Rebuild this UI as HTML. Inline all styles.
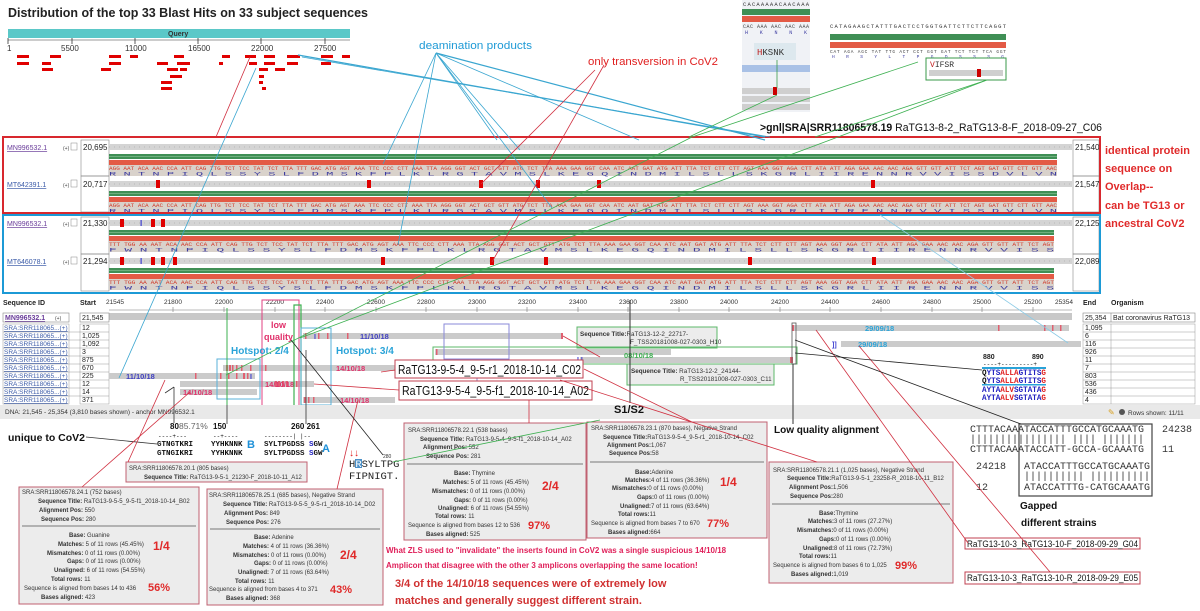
<!DOCTYPE html>
<html><head><meta charset="utf-8"><style>
html,body{margin:0;padding:0;background:#fff;}
svg{display:block;font-family:"Liberation Sans",sans-serif;}
.m{font-family:"Liberation Mono",monospace;}
.b{font-weight:bold;}
</style></head><body>
<svg width="1200" height="611" viewBox="0 0 1200 611" xmlns="http://www.w3.org/2000/svg">
<text x="8" y="17" font-size="13" class="b" textLength="360" lengthAdjust="spacingAndGlyphs" fill="#222">Distribution of the top 33 Blast Hits on 33 subject sequences</text>
<rect x="8" y="29" width="342" height="9" fill="#5bc8c8"/>
<text x="168" y="36" font-size="7" class="b" fill="#333">Query</text>
<line x1="8" y1="40" x2="350" y2="40" stroke="#333" stroke-width="0.6"/>
<g stroke="#333" stroke-width="0.8"><line x1="8" y1="38" x2="8" y2="44"/><line x1="72" y1="38" x2="72" y2="44"/><line x1="135" y1="38" x2="135" y2="44"/><line x1="198" y1="38" x2="198" y2="44"/><line x1="261" y1="38" x2="261" y2="44"/><line x1="325" y1="38" x2="325" y2="44"/></g>
<g font-size="8" fill="#333"><text x="7" y="51">1</text><text x="61" y="51">5500</text><text x="125" y="51">11000</text><text x="188" y="51">16500</text><text x="251" y="51">22000</text><text x="314" y="51">27500</text></g>
<g fill="#e00000">
<rect x="17" y="55" width="12" height="3"/><rect x="50" y="55" width="11" height="3"/><rect x="109" y="55" width="12" height="3"/><rect x="130" y="55" width="8" height="3"/><rect x="174" y="55" width="10" height="3"/><rect x="222" y="55" width="8" height="3"/><rect x="245" y="55" width="11" height="3"/><rect x="264" y="55" width="11" height="3"/><rect x="287" y="55" width="13" height="3"/><rect x="321" y="55" width="12" height="3"/><rect x="342" y="55" width="8" height="3"/>
<rect x="17" y="62" width="12" height="3"/><rect x="42" y="62" width="9" height="3"/><rect x="109" y="62" width="12" height="3"/><rect x="157" y="62" width="11" height="3"/><rect x="177" y="62" width="13" height="3"/><rect x="219" y="62" width="4" height="3"/><rect x="249" y="62" width="8" height="3"/><rect x="264" y="62" width="11" height="3"/><rect x="287" y="62" width="11" height="3"/><rect x="321" y="62" width="10" height="3"/>
<rect x="42" y="68" width="11" height="3"/><rect x="101" y="68" width="10" height="3"/><rect x="167" y="68" width="11" height="3"/><rect x="180" y="68" width="7" height="3"/><rect x="259" y="68" width="9" height="3"/><rect x="275" y="68" width="10" height="3"/>
<rect x="170" y="75" width="12" height="3"/><rect x="259" y="75" width="5" height="3"/>
<rect x="161" y="81" width="11" height="3"/><rect x="259" y="81" width="4" height="3"/>
<rect x="161" y="87" width="11" height="3"/><rect x="262" y="87" width="4" height="3"/>
</g>
<text x="419" y="49" font-size="11" fill="#1e9ad6" textLength="113" lengthAdjust="spacingAndGlyphs">deamination products</text>
<text x="588" y="65" font-size="11" fill="#e02020" textLength="130" lengthAdjust="spacingAndGlyphs">only transversion in CoV2</text>

<rect x="742" y="0" width="68" height="112" fill="#f0f2f6"/>
<text x="743" y="6" font-size="5.5" class="m" fill="#333" textLength="66">CACAAAAACAACAAA</text>
<rect x="742" y="9" width="68" height="6" fill="#3f8f55"/><rect x="742" y="16" width="68" height="6" fill="#e35a45"/>
<text x="743" y="28" font-size="5" class="m" fill="#444" textLength="66">CAC AAA AAC AAC AAA</text>
<text x="745" y="34" font-size="5" class="m" fill="#3b3ba0" textLength="62">H  K  N  N  K</text>
<rect x="754" y="43" width="42" height="17" fill="#dde8ee"/>
<text x="757" y="55" font-size="9" class="m" fill="#333"><tspan fill="#c02020">H</tspan>KSNK</text>
<rect x="742" y="65" width="68" height="7" fill="#a9c1e6"/>
<rect x="742" y="88" width="68" height="6" fill="#cfcfcf"/><rect x="742" y="96" width="68" height="6" fill="#cfcfcf"/><rect x="742" y="104" width="68" height="6" fill="#cfcfcf"/>
<rect x="773" y="87" width="4" height="8" fill="#c00"/>
<line x1="777" y1="60" x2="777" y2="88" stroke="#3a9a4a" stroke-width="0.8"/>
<text x="830" y="28" font-size="5.5" class="m" fill="#333" textLength="176">CATAGAAGCTATTTGACTCCTGGTGATTCTTCTTCAGGT</text>
<rect x="830" y="34" width="176" height="6" fill="#3f8f55"/><rect x="830" y="42" width="176" height="6" fill="#e35a45"/>
<text x="830" y="53" font-size="4.5" class="m" fill="#444" textLength="176">CAT AGA AGC TAT TTG ACT CCT GGT GAT TCT TCT TCA GGT</text>
<text x="832" y="58" font-size="4.5" class="m" fill="#3b3ba0" textLength="172">H   R   S   Y   L   T   P   G   D   S   S   S   G</text>
<rect x="926" y="58" width="80" height="22" fill="#fff" stroke="#3a9a4a" stroke-width="1"/>
<text x="930" y="67" font-size="8" class="m" fill="#333"><tspan fill="#c02020">V</tspan>IFSR</text>
<rect x="929" y="70" width="74" height="6" fill="#cfcfcf"/><rect x="977" y="69" width="4" height="8" fill="#c00"/>
<text x="760" y="131" font-size="11" fill="#111" textLength="342" lengthAdjust="spacingAndGlyphs"><tspan class="b">&gt;gnl|SRA|SRR11806578.19</tspan> RaTG13-8-2_RaTG13-8-F_2018-09-27_C06</text>

<g id="panels">
<g font-size="7">
<text x="7" y="150" fill="#6a3d9a" text-decoration="underline">MN996532.1</text>
<text x="7" y="187" fill="#3b5ba8" text-decoration="underline">MT642391.1</text>
<text x="7" y="226" fill="#6a3d9a" text-decoration="underline">MN996532.1</text>
<text x="7" y="264" fill="#3b5ba8" text-decoration="underline">MT646078.1</text>
<g font-size="5" fill="#444"><text x="63" y="150">(+)</text><text x="63" y="187">(+)</text><text x="63" y="226">(+)</text><text x="63" y="264">(+)</text></g>
<g fill="#fff" stroke="#888" stroke-width="0.5"><rect x="71" y="143" width="6" height="7"/><rect x="71" y="180" width="6" height="7"/><rect x="71" y="219" width="6" height="7"/><rect x="71" y="257" width="6" height="7"/></g>
<g fill="none" stroke="#888" stroke-width="0.6"><rect x="81" y="140" width="28" height="36"/><rect x="81" y="176" width="28" height="36"/><rect x="81" y="217" width="28" height="37"/><rect x="81" y="254" width="28" height="37"/>
<rect x="1073" y="140" width="26" height="36"/><rect x="1073" y="176" width="26" height="36"/><rect x="1073" y="217" width="26" height="37"/><rect x="1073" y="254" width="26" height="37"/></g>
<g font-size="8" fill="#222"><text x="83" y="150">20,695</text><text x="83" y="187">20,717</text><text x="83" y="226">21,330</text><text x="83" y="264">21,294</text>
<text x="1075" y="150">21,540</text><text x="1075" y="187">21,547</text><text x="1075" y="226">22,125</text><text x="1075" y="264">22,089</text></g>
</g>
<g>
<rect x="109" y="144" width="963" height="6" fill="#d4d4d4"/><rect x="109" y="181" width="963" height="6" fill="#d4d4d4"/><rect x="109" y="220" width="963" height="6" fill="#d4d4d4"/><rect x="109" y="258" width="963" height="6" fill="#d4d4d4"/>
<g stroke="#999" stroke-width="0.6" stroke-dasharray="1 4"><line x1="109" y1="147" x2="1072" y2="147"/><line x1="109" y1="184" x2="1072" y2="184"/><line x1="109" y1="223" x2="1072" y2="223"/><line x1="109" y1="261" x2="1072" y2="261"/></g>
<g fill="#3f8f55"><rect x="109" y="154" width="948" height="5"/><rect x="109" y="191" width="948" height="5"/><rect x="109" y="230" width="945" height="5"/><rect x="109" y="268" width="945" height="5"/></g>
<g stroke="#9ed0a8" stroke-width="0.6"><line x1="109" y1="156.5" x2="1057" y2="156.5"/><line x1="109" y1="193.5" x2="1057" y2="193.5"/><line x1="109" y1="232.5" x2="1054" y2="232.5"/><line x1="109" y1="270.5" x2="1054" y2="270.5"/></g>
<g fill="#e35a45"><rect x="109" y="160" width="948" height="5"/><rect x="109" y="197" width="948" height="5"/><rect x="109" y="236" width="945" height="5"/><rect x="109" y="274" width="945" height="5"/></g>
<g fill="#d9d2cb"><rect x="109" y="165" width="948" height="11"/><rect x="109" y="202" width="948" height="11"/><rect x="109" y="241" width="945" height="11"/><rect x="109" y="279" width="945" height="11"/></g>
<g font-size="5" class="m" fill="#d03a2a">
<text x="109" y="170" textLength="948" lengthAdjust="spacingAndGlyphs">AGG AAT ACA AAC CCA ATT CAG TTG TCT TCC TAT TCT TTA TTT GAC ATG AGT AAA TTC CCC CTT AAA TTA AGG GGT ACT GCT GTT ATG TCT TTA AAA GAA GGT CAA ATC AAT GAT ATG ATT TTA TCT CTT CTT AGT AAA GGT AGA CTT ATA ATT AGA GAA AAC AAC AGA GTT GTT ATT TCT AGT GAT GTT CTT GTT AAC</text>
<text x="109" y="207" textLength="948" lengthAdjust="spacingAndGlyphs">AGG AAT ACA AAC CCA ATT CAG TTG TCT TCC TAT TCT TTA TTT GAC ATG AGT AAA TTC CCC CTT AAA TTA AGG GGT ACT GCT GTT ATG TCT TTA AAA GAA GGT CAA ATC AAT GAT ATG ATT TTA TCT CTT CTT AGT AAA GGT AGA CTT ATA ATT AGA GAA AAC AAC AGA GTT GTT ATT TCT AGT GAT GTT CTT GTT AAC</text>
<text x="109" y="246" textLength="945" lengthAdjust="spacingAndGlyphs">TTT TGG AA AAT ACA AAC CCA ATT CAG TTG TCT TCC TAT TCT TTA TTT GAC ATG AGT AAA TTC CCC CTT AAA TTA AGG GGT ACT GCT GTT ATG TCT TTA AAA GAA GGT CAA ATC AAT GAT ATG ATT TTA TCT CTT CTT AGT AAA GGT AGA CTT ATA ATT AGA GAA AAC AAC AGA GTT GTT ATT TCT AGT</text>
<text x="109" y="284" textLength="945" lengthAdjust="spacingAndGlyphs">TTT TGG AA AAT ACA AAC CCA ATT CAG TTG TCT TCC TAT TCT TTA TTT GAC ATG AGT AAA TTC CCC CTT AAA TTA AGG GGT ACT GCT GTT ATG TCT TTA AAA GAA GGT CAA ATC AAT GAT ATG ATT TTA TCT CTT CTT AGT AAA GGT AGA CTT ATA ATT AGA GAA AAC AAC AGA GTT GTT ATT TCT AGT</text>
</g>
<g font-size="5" class="m" fill="#3b3ba0">
<text x="109" y="175.5" textLength="948" lengthAdjust="spacingAndGlyphs"> R   N   T   N   P   I   Q   L   S   S   Y   S   L   F   D   M   S   K   F   P   L   K   L   R   G   T   A   V   M   S   L   K   E   G   Q   I   N   D   M   I   L   S   L   L   S   K   G   R   L   I   I   R   E   N   N   R   V   V   I   S   S   D   V   L   V   N </text>
<text x="109" y="212.5" textLength="948" lengthAdjust="spacingAndGlyphs"> R   N   T   N   P   I   Q   L   S   S   Y   S   L   F   D   M   S   K   F   P   L   K   L   R   G   T   A   V   M   S   L   K   E   G   Q   I   N   D   M   I   L   S   L   L   S   K   G   R   L   I   I   R   E   N   N   R   V   V   I   S   S   D   V   L   V   N </text>
<text x="109" y="251.5" textLength="945" lengthAdjust="spacingAndGlyphs"> F   W      N   T   N   P   I   Q   L   S   S   Y   S   L   F   D   M   S   K   F   P   L   K   L   R   G   T   A   V   M   S   L   K   E   G   Q   I   N   D   M   I   L   S   L   L   S   K   G   R   L   I   I   R   E   N   N   R   V   V   I   S   S </text>
<text x="109" y="289.5" textLength="945" lengthAdjust="spacingAndGlyphs"> F   W      N   T   N   P   I   Q   L   S   S   Y   S   L   F   D   M   S   K   F   P   L   K   L   R   G   T   A   V   M   S   L   K   E   G   Q   I   N   D   M   I   L   S   L   L   S   K   G   R   L   I   I   R   E   N   N   R   V   V   I   S   S </text>
</g>
<g fill="#e00000">
<rect x="156" y="180" width="4" height="8"/><rect x="367" y="180" width="4" height="8"/><rect x="479" y="180" width="4" height="8"/><rect x="536" y="180" width="4" height="8"/><rect x="597" y="180" width="4" height="8"/><rect x="871" y="180" width="4" height="8"/>
<rect x="120" y="219" width="4" height="8"/><rect x="151" y="219" width="4" height="8"/><rect x="161" y="219" width="4" height="8"/>
<rect x="120" y="257" width="4" height="8"/><rect x="151" y="257" width="4" height="8"/><rect x="161" y="257" width="4" height="8"/><rect x="173" y="257" width="4" height="8"/><rect x="381" y="257" width="4" height="8"/><rect x="490" y="257" width="4" height="8"/><rect x="544" y="257" width="4" height="8"/><rect x="748" y="257" width="4" height="8"/><rect x="872" y="257" width="4" height="8"/>
</g>
<g fill="#3b3bd0" font-size="8" class="b"><text x="140" y="226">I</text><text x="140" y="264">I</text></g>
</g>
<rect x="3" y="137" width="1097" height="76" fill="none" stroke="#d8282e" stroke-width="2"/>
<rect x="3" y="215" width="1097" height="78" fill="none" stroke="#1c9ad6" stroke-width="2"/>
</g>
<g fill="#e02a2a" font-size="11" class="b">
<text x="1105" y="154">identical protein</text><text x="1105" y="172">sequence on</text><text x="1105" y="190">Overlap--</text><text x="1105" y="209">can be TG13 or</text><text x="1105" y="227">ancestral CoV2</text>
</g>

<g font-size="7" fill="#222">
<text x="3" y="305" class="b">Sequence ID</text><text x="80" y="305" class="b">Start</text>
<text x="1083" y="305" class="b">End</text><text x="1111" y="305" class="b">Organism</text>
</g>
<line x1="109" y1="310" x2="1072" y2="310" stroke="#777" stroke-width="0.6"/>
<g font-size="6.5" fill="#333" text-anchor="middle">
<text x="115" y="304">21545</text><text x="173" y="304">21800</text><text x="224" y="304">22000</text><text x="275" y="304">22200</text><text x="325" y="304">22400</text><text x="376" y="304">22600</text><text x="426" y="304">22800</text><text x="477" y="304">23000</text><text x="527" y="304">23200</text><text x="578" y="304">23400</text><text x="628" y="304">23600</text><text x="679" y="304">23800</text><text x="729" y="304">24000</text><text x="780" y="304">24200</text><text x="830" y="304">24400</text><text x="881" y="304">24600</text><text x="932" y="304">24800</text><text x="982" y="304">25000</text><text x="1033" y="304">25200</text><text x="1064" y="304">25354</text>
</g>
<g stroke="#777" stroke-width="0.6"><line x1="173" y1="307" x2="173" y2="312"/><line x1="224" y1="307" x2="224" y2="312"/><line x1="275" y1="307" x2="275" y2="312"/><line x1="325" y1="307" x2="325" y2="312"/><line x1="376" y1="307" x2="376" y2="312"/><line x1="426" y1="307" x2="426" y2="312"/><line x1="477" y1="307" x2="477" y2="312"/><line x1="527" y1="307" x2="527" y2="312"/><line x1="578" y1="307" x2="578" y2="312"/><line x1="628" y1="307" x2="628" y2="312"/><line x1="679" y1="307" x2="679" y2="312"/><line x1="729" y1="307" x2="729" y2="312"/><line x1="780" y1="307" x2="780" y2="312"/><line x1="830" y1="307" x2="830" y2="312"/><line x1="881" y1="307" x2="881" y2="312"/><line x1="932" y1="307" x2="932" y2="312"/><line x1="982" y1="307" x2="982" y2="312"/><line x1="1033" y1="307" x2="1033" y2="312"/></g>
<rect x="109" y="313" width="963" height="7" fill="#c8c8c8"/>
<g fill="none" stroke="#888" stroke-width="0.6"><rect x="3" y="313" width="66" height="9"/><rect x="80" y="313" width="29" height="9"/><rect x="1083" y="313" width="112" height="9"/><line x1="1111" y1="313" x2="1111" y2="322"/></g>
<text x="5" y="320" font-size="7" fill="#6a3d9a" text-decoration="underline" class="b">MN996532.1</text>
<text x="55" y="320" font-size="5" fill="#444">(+)</text>
<text x="82" y="320" font-size="7" fill="#222">21,545</text>
<text x="1085" y="320" font-size="7" fill="#222">25,354</text><text x="1113" y="320" font-size="7" fill="#222">Bat coronavirus RaTG13</text>
<g fill="none" stroke="#999" stroke-width="0.5">
<rect x="3" y="324" width="66" height="80"/><rect x="80" y="324" width="29" height="80"/><rect x="1083" y="324" width="112" height="80"/><line x1="1111" y1="324" x2="1111" y2="404"/>
<line x1="3" y1="332" x2="109" y2="332"/><line x1="3" y1="340" x2="109" y2="340"/><line x1="3" y1="348" x2="109" y2="348"/><line x1="3" y1="356" x2="109" y2="356"/><line x1="3" y1="364" x2="109" y2="364"/><line x1="3" y1="372" x2="109" y2="372"/><line x1="3" y1="380" x2="109" y2="380"/><line x1="3" y1="388" x2="109" y2="388"/><line x1="3" y1="396" x2="109" y2="396"/>
<line x1="1083" y1="332" x2="1195" y2="332"/><line x1="1083" y1="340" x2="1195" y2="340"/><line x1="1083" y1="348" x2="1195" y2="348"/><line x1="1083" y1="356" x2="1195" y2="356"/><line x1="1083" y1="364" x2="1195" y2="364"/><line x1="1083" y1="372" x2="1195" y2="372"/><line x1="1083" y1="380" x2="1195" y2="380"/><line x1="1083" y1="388" x2="1195" y2="388"/><line x1="1083" y1="396" x2="1195" y2="396"/>
</g>
<g font-size="6.5" fill="#3b5ba8" text-decoration="underline">
<text x="4" y="330">SRA:SRR118065...(+)</text><text x="4" y="338">SRA:SRR118065...(+)</text><text x="4" y="346">SRA:SRR118065...(+)</text><text x="4" y="354">SRA:SRR118065...(+)</text><text x="4" y="362">SRA:SRR118065...(+)</text><text x="4" y="370">SRA:SRR118065...(+)</text><text x="4" y="378">SRA:SRR118065...(+)</text><text x="4" y="386">SRA:SRR118065...(+)</text><text x="4" y="394">SRA:SRR118065...(+)</text><text x="4" y="402">SRA:SRR118065...(+)</text>
</g>
<g font-size="7" fill="#222">
<text x="82" y="330">12</text><text x="82" y="338">1,025</text><text x="82" y="346">1,092</text><text x="82" y="354">3</text><text x="82" y="362">875</text><text x="82" y="370">670</text><text x="82" y="378">225</text><text x="82" y="386">12</text><text x="82" y="394">14</text><text x="82" y="402">371</text>
<text x="1085" y="330">1,095</text><text x="1085" y="338">6</text><text x="1085" y="346">116</text><text x="1085" y="354">926</text><text x="1085" y="362">11</text><text x="1085" y="370">7</text><text x="1085" y="378">803</text><text x="1085" y="386">536</text><text x="1085" y="394">436</text><text x="1085" y="402">4</text>
</g>
<g fill="#cbcbcb">
<rect x="792" y="325" width="277" height="6"/>
<rect x="303" y="333" width="260" height="6"/>
<rect x="841" y="341" width="240" height="6"/>
<rect x="435" y="349" width="236" height="6"/>
<rect x="580" y="357" width="213" height="6"/>
<rect x="223" y="365" width="172" height="6"/>
<rect x="109" y="373" width="146" height="6"/>
<rect x="180" y="381" width="134" height="6"/>
<rect x="180" y="389" width="77" height="6"/>
<rect x="303" y="397" width="92" height="6"/>
</g>
<g fill="#e06070">
<rect x="792" y="325" width="2" height="6"/><rect x="998" y="325" width="1.5" height="6"/><rect x="1044" y="325" width="1.5" height="6"/><rect x="1052" y="325" width="1.5" height="6"/><rect x="1060" y="325" width="1.5" height="6"/>
<rect x="305" y="333" width="1.5" height="6"/><rect x="318" y="333" width="1.5" height="6"/><rect x="327" y="333" width="1.5" height="6"/><rect x="347" y="333" width="1.5" height="6"/><rect x="561" y="333" width="2" height="6"/>
<rect x="436" y="349" width="1.5" height="6"/>
<rect x="790" y="357" width="3" height="6"/>
<rect x="226" y="365" width="2" height="6"/><rect x="229" y="365" width="2" height="6"/><rect x="232" y="365" width="1.5" height="6"/><rect x="236" y="365" width="1.5" height="6"/><rect x="241" y="365" width="1.5" height="6"/><rect x="250" y="365" width="1.5" height="6"/><rect x="265" y="365" width="1.5" height="6"/>
<rect x="195" y="373" width="1.5" height="6"/><rect x="220" y="373" width="1.5" height="6"/><rect x="228" y="373" width="1.5" height="6"/><rect x="236" y="373" width="1.5" height="6"/><rect x="243" y="373" width="2" height="6"/><rect x="247" y="373" width="1.5" height="6"/>
<rect x="275" y="381" width="2" height="6"/><rect x="278" y="381" width="2" height="6"/><rect x="282" y="381" width="2" height="6"/><rect x="286" y="381" width="2" height="6"/><rect x="296" y="381" width="1.5" height="6"/>
<rect x="304" y="397" width="1.5" height="6"/><rect x="308" y="397" width="1.5" height="6"/><rect x="313" y="397" width="1.5" height="6"/>
</g>
<g fill="#3b3bd0" font-size="7" class="b"><text x="314" y="339">I</text><text x="250" y="379">I</text><text x="832" y="347">]]</text><text x="577" y="362">I I</text></g>
<g font-size="7.5" class="b">
<text x="865" y="331" fill="#29a3d8">29/09/18</text>
<text x="360" y="339" fill="#4040c0">11/10/18</text>
<text x="858" y="347" fill="#29a3d8">29/09/18</text>
<text x="624" y="358" fill="#3cb050">08/10/18</text>
<text x="336" y="371" fill="#e0306a">14/10/18</text>
<text x="126" y="379" fill="#4040c0">11/10/18</text>
<text x="265" y="387" fill="#e0306a">14/10/18</text>
<text x="183" y="395" fill="#e0306a">14/10/18</text>
<text x="340" y="403" fill="#e0306a">14/10/18</text>
</g>
<rect x="577" y="327" width="140" height="21" fill="#ececec" stroke="#5cb86a" stroke-width="1"/>
<text x="580" y="336" font-size="6.3" fill="#333"><tspan class="b">Sequence Title:</tspan>RaTG13-12-2_22717-</text>
<text x="630" y="344" font-size="6.3" fill="#333">F_TSS20181008-027-0303_H10</text>
<rect x="433" y="347" width="364" height="17" fill="none" stroke="#5cb86a" stroke-width="1"/>
<rect x="627" y="364" width="147" height="21" fill="#ececec" stroke="#5cb86a" stroke-width="1"/>
<text x="631" y="373" font-size="6.3" fill="#333"><tspan class="b">Sequence Title:</tspan> RaTG13-12-2_24144-</text>
<text x="680" y="381" font-size="6.3" fill="#333">R_TSS20181008-027-0303_C11</text>
<rect x="262" y="300" width="37" height="112" fill="none" stroke="#e04080" stroke-width="1"/>
<text x="271" y="328" font-size="9" class="b" fill="#e0306a">low</text>
<text x="264" y="340" font-size="9" class="b" fill="#e0306a">quality</text>
<rect x="294" y="305" width="7" height="103" fill="none" stroke="#3cb050" stroke-width="1.2"/>
<rect x="301" y="328" width="30" height="77" fill="none" stroke="#5ab0d8" stroke-width="1"/>
<rect x="217" y="359" width="43" height="40" fill="none" stroke="#5ab0d8" stroke-width="1"/>
<text x="231" y="354" font-size="10" class="b" fill="#29a3d8">Hotspot: 2/4</text>
<text x="336" y="354" font-size="10" class="b" fill="#29a3d8">Hotspot: 3/4</text>
<rect x="444" y="324" width="65" height="35" fill="none" stroke="#8a8ad8" stroke-width="1"/>
<line x1="477" y1="359" x2="477" y2="398" stroke="#8a8ad8" stroke-width="1"/>
<text x="468" y="414" font-size="10" class="b" fill="#5050c0">RBM</text>
<rect x="792" y="323" width="4" height="41" fill="none" stroke="#555" stroke-width="0.8"/>
<rect x="395" y="360" width="188" height="18" fill="#fff" stroke="#c04050" stroke-width="1"/>
<text x="398" y="374" font-size="13" fill="#111" textLength="183" lengthAdjust="spacingAndGlyphs">RaTG13-9-5-4_9-5-r1_2018-10-14_C02</text>
<rect x="399" y="381" width="193" height="19" fill="#fff" stroke="#c04050" stroke-width="1"/>
<text x="402" y="395" font-size="13" fill="#111" textLength="187" lengthAdjust="spacingAndGlyphs">RaTG13-9-5-4_9-5-f1_2018-10-14_A02</text>
<g font-size="7" class="b" fill="#222"><text x="983" y="359">880</text><text x="1032" y="359">890</text></g>
<text x="983" y="366" font-size="6" class="m" fill="#222">----+---------+</text>
<rect x="982" y="367" width="64" height="2" fill="#29a3d8"/>
<g font-size="8" class="m b">
<text x="982" y="375" textLength="64" lengthAdjust="spacingAndGlyphs"><tspan fill="#111">Q</tspan><tspan fill="#2020c0">YTS</tspan><tspan fill="#e02020">ALLA</tspan><tspan fill="#2020c0">GTITS</tspan><tspan fill="#e02020">G</tspan></text>
<text x="982" y="383" textLength="64" lengthAdjust="spacingAndGlyphs"><tspan fill="#111">Q</tspan><tspan fill="#2020c0">YTS</tspan><tspan fill="#e02020">ALLA</tspan><tspan fill="#2020c0">GTITS</tspan><tspan fill="#e02020">G</tspan></text>
<text x="982" y="392" textLength="64" lengthAdjust="spacingAndGlyphs"><tspan fill="#2020c0">AYTA</tspan><tspan fill="#e02020">ALV</tspan><tspan fill="#2020c0">SGTATA</tspan><tspan fill="#e02020">G</tspan></text>
<text x="982" y="400" textLength="64" lengthAdjust="spacingAndGlyphs"><tspan fill="#2020c0">AYTA</tspan><tspan fill="#e02020">ALV</tspan><tspan fill="#2020c0">SGTATA</tspan><tspan fill="#e02020">G</tspan></text>
</g>
<rect x="982" y="384" width="64" height="1.5" fill="#29a3d8"/>
<rect x="0" y="405" width="1200" height="14" fill="#e9e9e9"/>
<text x="5" y="414" font-size="6.5" fill="#333">DNA: 21,545 - 25,354 (3,810 bases shown) - anchor MN996532.1</text>
<text x="1128" y="415" font-size="6.5" fill="#333">Rows shown: 11/11</text>
<circle cx="1122" cy="412" r="3" fill="#555"/><text x="1108" y="415" font-size="8" fill="#d8a020">✎</text>
<text x="614" y="413" font-size="11" class="b" fill="#111">S1/S2</text>
<line x1="630" y1="300" x2="630" y2="403" stroke="#333" stroke-width="1"/>
<text x="774" y="433" font-size="10" class="b" fill="#111">Low quality alignment</text>
<line x1="793" y1="364" x2="793" y2="424" stroke="#333" stroke-width="1"/>

<text x="8" y="441" font-size="10.5" class="b" fill="#111">unique to CoV2</text>
<line x1="86" y1="437" x2="157" y2="444" stroke="#333" stroke-width="0.8"/>
<text x="170" y="429" font-size="8" class="b" fill="#111">80</text><text x="179" y="429" font-size="8.5" fill="#666">85.71%</text>
<text x="213" y="429" font-size="8" class="b" fill="#111">150</text>
<text x="291" y="429" font-size="8" class="b" fill="#111">260 261</text>
<g font-size="6" class="m" fill="#111"><text x="158" y="438">----+---</text><text x="213" y="438">--+----</text><text x="264" y="438">--------|  |--</text></g>
<g font-size="7.5" class="m b" fill="#111">
<text x="157" y="446">GTNGTKRI</text><text x="157" y="455">GTNGIKRI</text>
<text x="211" y="446">YYHKNNK</text><text x="211" y="455">YYHKNNK</text>
<text x="264" y="446">SYLTPGDSS <tspan fill="#2020c0">S</tspan>GW</text><text x="264" y="455">SYLTPGDSS <tspan fill="#2020c0">S</tspan>GW</text>
</g>
<text x="247" y="448" font-size="11" class="b" fill="#1e90d8">B</text>
<text x="322" y="452" font-size="11" class="b" fill="#1e90d8">A</text>
<text x="349" y="456" font-size="10" class="b" fill="#e02020">↓↓</text>
<text x="383" y="458" font-size="5" fill="#333">280</text>
<rect x="355" y="459" width="7" height="9" fill="#4a90c8"/>
<text x="349" y="467" font-size="10.5" class="m" fill="#222">H<tspan fill="#fff">R</tspan>SYLTPG</text>
<text x="349" y="479" font-size="10.5" class="m" fill="#222">FIPNIGT.</text>
<line x1="165" y1="393" x2="174" y2="387" stroke="#333" stroke-width="0.8"/>
<line x1="174" y1="387" x2="174" y2="423" stroke="#333" stroke-width="0.8"/>
<line x1="227" y1="308" x2="227" y2="424" stroke="#333" stroke-width="0.8"/>
<line x1="306" y1="350" x2="306" y2="424" stroke="#333" stroke-width="0.8"/>
<line x1="227" y1="308" x2="227" y2="405" stroke="#3cb050" stroke-width="1"/>

<rect x="126" y="462" width="181" height="20" fill="#ececec" stroke="#c06070" stroke-width="1"/>
<text x="129" y="470" font-size="6" fill="#333">SRA:SRR11806578.20.1 (805 bases)</text>
<text x="144" y="479" font-size="6" fill="#333"><tspan class="b">Sequence Title:</tspan> RaTG13-9-5-1_21230-F_2018-10-11_A12</text>

<g font-size="6" fill="#333">
<rect x="19" y="487" width="180" height="117" fill="#ececec" stroke="#c06070" stroke-width="1"/>
<line x1="22" y1="526" x2="196" y2="526" stroke="#777" stroke-width="1"/>
<text x="22" y="494">SRA:SRR11806578.24.1 (752 bases)</text>
<text x="38" y="503"><tspan class="b">Sequence Title:</tspan> RaTG13-9-5-5_9-5-f1_2018-10-14_B02</text>
<text x="39" y="512"><tspan class="b">Alignment Pos:</tspan> 550</text>
<text x="41" y="521"><tspan class="b">Sequence Pos:</tspan> 280</text>
<text x="69" y="537"><tspan class="b">Base:</tspan> Guanine</text>
<text x="58" y="546"><tspan class="b">Matches:</tspan> 5 of 11 rows (45.45%)</text>
<text x="47" y="555"><tspan class="b">Mismatches:</tspan> 0 of 11 rows (0.00%)</text>
<text x="67" y="563"><tspan class="b">Gaps:</tspan> 0 of 11 rows (0.00%)</text>
<text x="54" y="572"><tspan class="b">Unaligned:</tspan> 6 of 11 rows (54.55%)</text>
<text x="51" y="581" class="b">Total rows: <tspan font-weight="normal">11</tspan></text>
<text x="24" y="590">Sequence is aligned from bases 14 to 436</text>
<text x="41" y="599"><tspan class="b">Bases aligned:</tspan> 423</text>
<rect x="207" y="489" width="176" height="116" fill="#ececec" stroke="#c06070" stroke-width="1"/>
<line x1="210" y1="529" x2="380" y2="529" stroke="#777" stroke-width="1"/>
<text x="209" y="497">SRA:SRR11806578.25.1 (685 bases), Negative Strand</text>
<text x="223" y="506"><tspan class="b">Sequence Title:</tspan> RaTG13-9-5-5_9-5-r1_2018-10-14_D02</text>
<text x="224" y="515"><tspan class="b">Alignment Pos:</tspan> 849</text>
<text x="226" y="524"><tspan class="b">Sequence Pos:</tspan> 276</text>
<text x="254" y="539"><tspan class="b">Base:</tspan> Adenine</text>
<text x="243" y="548"><tspan class="b">Matches:</tspan> 4 of 11 rows (36.36%)</text>
<text x="233" y="557"><tspan class="b">Mismatches:</tspan> 0 of 11 rows (0.00%)</text>
<text x="254" y="565"><tspan class="b">Gaps:</tspan> 0 of 11 rows (0.00%)</text>
<text x="238" y="574"><tspan class="b">Unaligned:</tspan> 7 of 11 rows (63.64%)</text>
<text x="235" y="583" class="b">Total rows: <tspan font-weight="normal">11</tspan></text>
<text x="209" y="591">Sequence is aligned from bases 4 to 371</text>
<text x="226" y="600"><tspan class="b">Bases aligned:</tspan> 368</text>
<rect x="404" y="423" width="182" height="117" fill="#ececec" stroke="#c06070" stroke-width="1"/>
<line x1="407" y1="464" x2="583" y2="464" stroke="#777" stroke-width="1"/>
<text x="408" y="432">SRA:SRR11806578.22.1 (538 bases)</text>
<text x="420" y="441"><tspan class="b">Sequence Title:</tspan> RaTG13-9-5-4_9-5-f1_2018-10-14_A02</text>
<text x="423" y="449"><tspan class="b">Alignment Pos:</tspan> 552</text>
<text x="426" y="458"><tspan class="b">Sequence Pos:</tspan> 281</text>
<text x="454" y="475"><tspan class="b">Base:</tspan> Thymine</text>
<text x="443" y="484"><tspan class="b">Matches:</tspan> 5 of 11 rows (45.45%)</text>
<text x="432" y="493"><tspan class="b">Mismatches:</tspan> 0 of 11 rows (0.00%)</text>
<text x="454" y="502"><tspan class="b">Gaps:</tspan> 0 of 11 rows (0.00%)</text>
<text x="438" y="510"><tspan class="b">Unaligned:</tspan> 6 of 11 rows (54.55%)</text>
<text x="435" y="518" class="b">Total rows: <tspan font-weight="normal">11</tspan></text>
<text x="408" y="527">Sequence is aligned from bases 12 to 536</text>
<text x="426" y="536"><tspan class="b">Bases aligned:</tspan> 525</text>
<rect x="587" y="422" width="180" height="116" fill="#ececec" stroke="#c06070" stroke-width="1"/>
<line x1="590" y1="462" x2="764" y2="462" stroke="#777" stroke-width="1"/>
<text x="591" y="430">SRA:SRR11806578.23.1 (870 bases), Negative Strand</text>
<text x="603" y="439"><tspan class="b">Sequence Title:</tspan>RaTG13-9-5-4_9-5-r1_2018-10-14_C02</text>
<text x="607" y="447"><tspan class="b">Alignment Pos:</tspan>1,067</text>
<text x="609" y="455"><tspan class="b">Sequence Pos:</tspan>58</text>
<text x="635" y="474"><tspan class="b">Base:</tspan>Adenine</text>
<text x="625" y="482"><tspan class="b">Matches:</tspan>4 of 11 rows (36.36%)</text>
<text x="612" y="490"><tspan class="b">Mismatches:</tspan>0 of 11 rows (0.00%)</text>
<text x="637" y="499"><tspan class="b">Gaps:</tspan>0 of 11 rows (0.00%)</text>
<text x="620" y="508"><tspan class="b">Unaligned:</tspan>7 of 11 rows (63.64%)</text>
<text x="618" y="516" class="b">Total rows:<tspan font-weight="normal">11</tspan></text>
<text x="591" y="525">Sequence is aligned from bases 7 to 670</text>
<text x="608" y="534"><tspan class="b">Bases aligned:</tspan>664</text>
<rect x="769" y="462" width="184" height="121" fill="#ececec" stroke="#c06070" stroke-width="1"/>
<line x1="772" y1="504" x2="950" y2="504" stroke="#777" stroke-width="1"/>
<text x="773" y="472">SRA:SRR11806578.21.1 (1,025 bases), Negative Strand</text>
<text x="787" y="480"><tspan class="b">Sequence Title:</tspan>RaTG13-9-5-1_23258-R_2018-10-11_B12</text>
<text x="789" y="489"><tspan class="b">Alignment Pos:</tspan>1,506</text>
<text x="790" y="498"><tspan class="b">Sequence Pos:</tspan>280</text>
<text x="819" y="515"><tspan class="b">Base:</tspan>Thymine</text>
<text x="808" y="523"><tspan class="b">Matches:</tspan>3 of 11 rows (27.27%)</text>
<text x="797" y="532"><tspan class="b">Mismatches:</tspan>0 of 11 rows (0.00%)</text>
<text x="819" y="541"><tspan class="b">Gaps:</tspan>0 of 11 rows (0.00%)</text>
<text x="803" y="550"><tspan class="b">Unaligned:</tspan>8 of 11 rows (72.73%)</text>
<text x="799" y="558" class="b">Total rows:<tspan font-weight="normal">11</tspan></text>
<text x="773" y="567">Sequence is aligned from bases 6 to 1,025</text>
<text x="791" y="576"><tspan class="b">Bases aligned:</tspan>1,019</text>
</g>
<g class="b" fill="#e02a2a">
<text x="153" y="550" font-size="12">1/4</text><text x="148" y="591" font-size="11">56%</text>
<text x="340" y="559" font-size="12">2/4</text><text x="330" y="593" font-size="11">43%</text>
<text x="542" y="490" font-size="12">2/4</text><text x="528" y="529" font-size="11">97%</text>
<text x="720" y="486" font-size="12">1/4</text><text x="707" y="527" font-size="11">77%</text>
<text x="895" y="569" font-size="11">99%</text>
</g>
<g class="b" fill="#e0205a">
<text x="386" y="553" font-size="8">What ZLS used to "invalidate" the inserts found in CoV2 was a single suspicious 14/10/18</text>
<text x="386" y="568" font-size="8">Amplicon that disagree with the other 3 amplicons overlapping the same location!</text>
</g>
<g class="b" fill="#d03030" font-size="11">
<text x="395" y="587">3/4 of the 14/10/18 sequences were of extremely low</text>
<text x="395" y="604">matches and generally suggest different strain.</text>
</g>

<g font-size="10" class="m" fill="#333">
<text x="970" y="432">CTTTACAAATACCATTTGCCATGCAAATG</text>
<text x="970" y="442">|||||||||||||||| |||| |||||||</text>
<text x="970" y="452">CTTTACAAATACCATT-GCCA-GCAAATG</text>
<text x="1162" y="432">24238</text><text x="1162" y="452">11</text>
<text x="976" y="469">24218</text>
<text x="1024" y="469">ATACCATTTGCCATGCAAATG</text>
<text x="1024" y="479">|||||||||| ||||||||||</text>
<text x="1024" y="490">ATACCATTTG-CATGCAAATG</text>
<text x="976" y="490">12</text>
</g>
<rect x="1019" y="424" width="133" height="72" fill="none" stroke="#444" stroke-width="1.2"/>
<text x="1020" y="509" font-size="10" class="b" fill="#111">Gapped</text>
<text x="1021" y="526" font-size="10" class="b" fill="#111">different strains</text>
<rect x="965" y="538" width="175" height="11" fill="#fff" stroke="#c04050" stroke-width="1"/>
<text x="967" y="547" font-size="9.5" fill="#111" textLength="171" lengthAdjust="spacingAndGlyphs">RaTG13-10-3_RaTG13-10-F_2018-09-29_G04</text>
<rect x="965" y="572" width="175" height="12" fill="#fff" stroke="#c04050" stroke-width="1"/>
<text x="967" y="581" font-size="9.5" fill="#111" textLength="171" lengthAdjust="spacingAndGlyphs">RaTG13-10-3_RaTG13-10-R_2018-09-29_E05</text>

<g fill="none" stroke-width="0.8">
<g stroke="#3aa6d0">
<line x1="298" y1="55" x2="765" y2="137" stroke-width="1.2"/><line x1="302" y1="57" x2="770" y2="137"/>
<line x1="256" y1="68" x2="119" y2="378"/>
<line x1="436" y1="53" x2="383" y2="164"/><line x1="436" y1="53" x2="398" y2="245"/><line x1="436" y1="53" x2="497" y2="140"/><line x1="436" y1="53" x2="520" y2="150"/><line x1="436" y1="53" x2="552" y2="208"/><line x1="436" y1="53" x2="639" y2="140"/><line x1="436" y1="53" x2="765" y2="140" stroke-width="1.2"/>
<line x1="880" y1="215" x2="1068" y2="343" stroke="#8ccbe6"/>
</g>
<g stroke="#d03040">
<line x1="250" y1="57" x2="216" y2="137"/>
<line x1="604" y1="65" x2="492" y2="262"/><line x1="595" y1="70" x2="481" y2="184"/>
<line x1="190" y1="392" x2="82" y2="487"/><line x1="165" y1="380" x2="128" y2="462"/>
<line x1="358" y1="400" x2="337" y2="489"/>
<line x1="381" y1="372" x2="395" y2="370"/><line x1="314" y1="384" x2="399" y2="390"/>
<line x1="529" y1="400" x2="529" y2="423"/>
<line x1="563" y1="336" x2="600" y2="357"/><line x1="584" y1="369" x2="692" y2="422"/>
<line x1="560" y1="380" x2="817" y2="462"/>
<line x1="816" y1="330" x2="968" y2="543"/><line x1="859" y1="346" x2="1050" y2="572"/>
</g>
<g stroke="#3cb050">
<line x1="918" y1="62" x2="692" y2="137"/><line x1="987" y1="80" x2="815" y2="137"/><line x1="987" y1="80" x2="838" y2="137"/>
<line x1="777" y1="95" x2="689" y2="137"/>
<line x1="692" y1="137" x2="226" y2="375"/><line x1="838" y1="137" x2="300" y2="338"/>
<line x1="600" y1="420" x2="393" y2="462"/>
</g>
<g stroke="#222">
<line x1="291" y1="340" x2="383" y2="455"/>
<line x1="795" y1="340" x2="1021" y2="424"/><line x1="795" y1="353" x2="982" y2="370"/>
</g>
</g>
</svg>
</body></html>
